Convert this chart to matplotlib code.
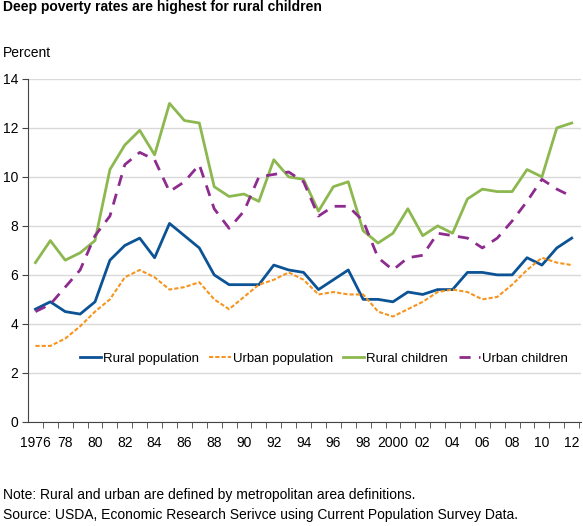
import matplotlib.pyplot as plt

plt.rcParams['font.family'] = ['Liberation Sans', 'DejaVu Sans']

years = list(range(1976, 2013))
rural_pop = [4.6, 4.9, 4.5, 4.4, 4.9, 6.6, 7.2, 7.5, 6.7, 8.1, 7.6, 7.1, 6.0, 5.6, 5.6, 5.6, 6.4, 6.2, 6.1,
             5.4, 5.8, 6.2, 5.0, 5.0, 4.9, 5.3, 5.2, 5.4, 5.4, 6.1, 6.1, 6.0, 6.0, 6.7, 6.4, 7.1, 7.5]
urban_pop = [3.1, 3.1, 3.4, 3.9, 4.5, 5.0, 5.9, 6.2, 5.9, 5.4, 5.5, 5.7, 5.0, 4.6, 5.1, 5.6, 5.8, 6.1, 5.8,
             5.2, 5.3, 5.2, 5.2, 4.5, 4.3, 4.6, 4.9, 5.3, 5.4, 5.3, 5.0, 5.1, 5.6, 6.2, 6.7, 6.5, 6.4]
rural_kids = [6.5, 7.4, 6.6, 6.9, 7.4, 10.3, 11.3, 11.9, 10.9, 13.0, 12.3, 12.2, 9.6, 9.2, 9.3, 9.0, 10.7, 10.0, 9.9,
              8.6, 9.6, 9.8, 7.8, 7.3, 7.7, 8.7, 7.6, 8.0, 7.7, 9.1, 9.5, 9.4, 9.4, 10.3, 10.0, 12.0, 12.2]
urban_kids = [4.5, 4.8, 5.5, 6.2, 7.6, 8.4, 10.5, 11.0, 10.7, 9.4, 9.8, 10.5, 8.7, 7.9, 8.6, 10.0, 10.1, 10.2, 9.8,
              8.4, 8.8, 8.8, 8.2, 6.7, 6.2, 6.7, 6.8, 7.7, 7.6, 7.5, 7.1, 7.5, 8.2, 9.0, 9.9, 9.5, 9.2]
tick_years = list(range(1976, 2013, 2))
tick_labels = ["1976" if y == 1976 else "2000" if y == 2000 else f"{y % 100:02d}" for y in tick_years]

fig = plt.figure(figsize=(5.83, 5.26), dpi=100)
ax = fig.add_axes([0.048, 0.198, 0.948, 0.652])

ax.plot(years, rural_pop, color="#0b5394", lw=2, label="Rural population")
ax.plot(years, urban_pop, color="#f7941d", lw=1.5, ls=(0, (2, 1)), label="Urban population")
ax.plot(years, rural_kids, color="#8cb84f", lw=2, label="Rural children")
ax.plot(years, urban_kids, color="#8e2b8e", lw=2, ls=(0, (4, 3)), label="Urban children")

ax.set_ylim(0, 14)
ax.set_yticks(range(0, 15, 2))
ax.set_xlim(1975.5, 2012.6)
ax.set_xticks(tick_years)
ax.set_xticklabels(tick_labels)
ax.set_xticks([y + 0.5 for y in years], minor=True)
ax.grid(axis="y", color="#d9d9d9", lw=1)
ax.set_axisbelow(True)
for s in ["top", "right"]:
    ax.spines[s].set_visible(False)
ax.spines["bottom"].set_color("#444444")
ax.spines["left"].set_color("#444444")
ax.tick_params(axis="y", length=4, color="#444444", labelsize=10, pad=3)
ax.tick_params(axis="x", which="major", length=0, labelsize=10, pad=10)
ax.tick_params(axis="x", which="minor", length=4, color="#444444")

ax.legend(loc="center", ncol=4, frameon=False, fontsize=9.5, handlelength=1.6,
          handletextpad=0.15, columnspacing=0.8, bbox_to_anchor=(0.535, 0.185))

fig.text(0.005, 0.987, "Deep poverty rates are highest for rural children", fontsize=10,
         fontweight="bold", va="center")
fig.text(0.005, 0.899, "Percent", fontsize=10, va="center")
fig.text(0.005, 0.059, "Note: Rural and urban are defined by metropolitan area definitions.", fontsize=10, va="center")
fig.text(0.005, 0.021, "Source: USDA, Economic Research Serivce using Current Population Survey Data.",
         fontsize=10, va="center")

fig.savefig("out.png")
